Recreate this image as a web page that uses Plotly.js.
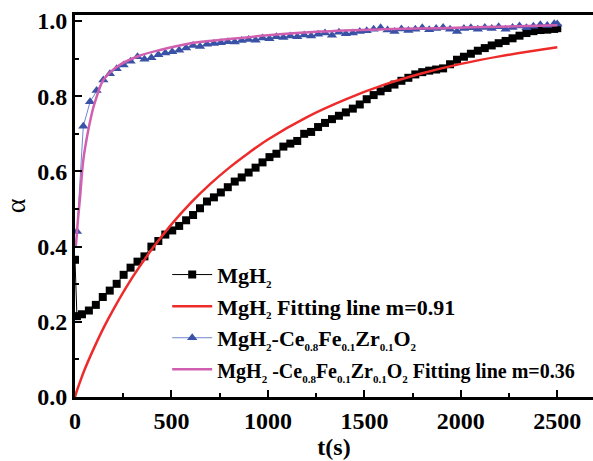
<!DOCTYPE html>
<html><head><meta charset="utf-8">
<script src="https://cdn.plot.ly/plotly-3.0.1.min.js"></script>
<style>html,body{margin:0;padding:0;background:#fff}</style>
</head><body><div id="chart" style="width:593px;height:461px"></div>
<script>
// MgH2 measured data
const mgT = [0,10,36,72,108,144,180,216,252,288,324,360,396,432,468,504,540,576,612,648,684,720,756,792,828,864,900,936,972,1008,1044,1080,1116,1152,1188,1224,1260,1296,1332,1368,1404,1440,1476,1512,1548,1584,1620,1656,1692,1728,1764,1800,1836,1872,1908,1944,1980,2016,2052,2088,2124,2160,2196,2232,2268,2304,2340,2376,2412,2448,2484,2500];
const mgA = [0.365,0.215,0.22,0.23,0.245,0.266,0.283,0.301,0.325,0.344,0.36,0.374,0.40,0.415,0.432,0.443,0.455,0.470,0.484,0.502,0.52,0.531,0.544,0.558,0.573,0.584,0.597,0.61,0.624,0.638,0.647,0.666,0.674,0.681,0.70,0.705,0.718,0.729,0.739,0.748,0.757,0.767,0.778,0.792,0.803,0.813,0.822,0.831,0.841,0.849,0.858,0.864,0.868,0.871,0.874,0.885,0.897,0.905,0.913,0.921,0.928,0.935,0.941,0.947,0.954,0.961,0.968,0.973,0.976,0.977,0.979,0.981];
// MgH2 fitting line (m=0.91)
const fitMgT = [0,10,25,50,100,150,200,300,400,500,600,700,800,900,1000,1200,1400,1600,1800,2000,2200,2500];
const fitMgA = [0,0.017,0.039,0.073,0.132,0.186,0.234,0.320,0.394,0.459,0.516,0.566,0.610,0.649,0.685,0.744,0.791,0.830,0.861,0.886,0.906,0.930];
// MgH2-Ce0.8Fe0.1Zr0.1O2 measured data
const ceT = [10,43,78,112,147,181,216,252,288,324,360,396,432,468,504,540,576,612,648,684,720,756,792,828,864,900,936,972,1008,1044,1080,1116,1152,1188,1224,1260,1296,1332,1368,1404,1440,1476,1512,1548,1584,1620,1656,1692,1728,1764,1800,1836,1872,1908,1944,1980,2016,2052,2088,2124,2160,2196,2232,2268,2304,2340,2376,2412,2448,2484,2500];
const ceA = [0.44,0.72,0.785,0.815,0.843,0.86,0.873,0.883,0.893,0.905,0.898,0.902,0.91,0.915,0.918,0.922,0.928,0.935,0.932,0.938,0.94,0.942,0.945,0.944,0.948,0.951,0.949,0.955,0.953,0.958,0.956,0.96,0.958,0.963,0.96,0.965,0.968,0.962,0.97,0.966,0.968,0.972,0.974,0.978,0.982,0.976,0.972,0.979,0.975,0.978,0.982,0.977,0.98,0.983,0.978,0.972,0.98,0.982,0.978,0.983,0.98,0.985,0.978,0.983,0.987,0.982,0.986,0.99,0.988,0.993,0.992];
// MgH2-Ce0.8Fe0.1Zr0.1O2 fitting line (m=0.36)
const fitCeT = [4,9,15,26,43,69,95,104,147,216,320,441,600,800,1000,1270,1600,1892,2200,2500];
const fitCeA = [0.40,0.43,0.47,0.53,0.63,0.71,0.77,0.785,0.843,0.878,0.905,0.923,0.941,0.952,0.962,0.972,0.978,0.981,0.985,0.989];

const S = s => '<sub><span style="font-size:11px">' + s + '</span></sub>';
const names = [
  'MgH' + S('2'),
  'MgH' + S('2') + ' Fitting line m=0.91',
  'MgH' + S('2') + '-Ce' + S('0.8') + 'Fe' + S('0.1') + 'Zr' + S('0.1') + 'O' + S('2'),
  '<span style="font-size:20px">MgH</span>' + S('2') + '<span style="font-size:20px"> -Ce</span>' + S('0.8') +
    '<span style="font-size:20px">Fe</span>' + S('0.1') + '<span style="font-size:20px">Zr</span>' + S('0.1') +
    '<span style="font-size:20px">O</span>' + S('2') + '<span style="font-size:20px"> Fitting line m=0.36</span>'
];
const xTickVals = [0,500,1000,1500,2000,2500];
const yTickVals = [0,0.2,0.4,0.6,0.8,1.0];

const FONT = 'Liberation Serif, Times New Roman, serif';
const traces = [
  {x: mgT, y: mgA, name: names[0], mode: 'lines+markers', type: 'scatter',
   line: {color: '#000', width: 1}, marker: {symbol: 'square', size: 8, color: '#000'}},
  {x: fitMgT, y: fitMgA, name: names[1], mode: 'lines', type: 'scatter',
   line: {color: '#ee2b2b', width: 2.5, shape: 'spline'}},
  {x: ceT, y: ceA, name: names[2], mode: 'lines+markers', type: 'scatter',
   line: {color: '#6f86d0', width: 1}, marker: {symbol: 'triangle-up', size: 9, color: '#3a52a6'}},
  {x: fitCeT, y: fitCeA, name: names[3], mode: 'lines', type: 'scatter',
   line: {color: '#d05fb0', width: 2.5, shape: 'spline'}}
];
const axisCommon = {
  showline: true, linecolor: '#000', linewidth: 3, showgrid: false, zeroline: false,
  ticks: 'inside', ticklen: 7, tickwidth: 2, tickcolor: '#000',
  tickfont: {family: FONT, size: 24, color: '#000', weight: 'bold'}
};
const layout = {
  width: 593, height: 461,
  margin: {l: 75, r: 0, t: 15, b: 64, autoexpand: false},
  paper_bgcolor: '#fff', plot_bgcolor: '#fff',
  showlegend: true,
  legend: {x: 0.178, y: 0.375, xanchor: 'left', yanchor: 'top', bgcolor: 'rgba(0,0,0,0)',
    font: {family: FONT, size: 22, color: '#000', weight: 'bold'}, tracegroupgap: 0, itemwidth: 40},
  xaxis: Object.assign({}, axisCommon, {
    range: [0, 2685], tickvals: xTickVals, mirror: true, automargin: false,
    minor: {dtick: 250, tick0: 0, ticks: 'inside', ticklen: 4, tickwidth: 2, tickcolor: '#000'},
    title: {text: 't(s)', font: {family: FONT, size: 24, color: '#000', weight: 'bold'}, standoff: 6}
  }),
  yaxis: Object.assign({}, axisCommon, {
    range: [0, 1.016], tickvals: yTickVals, tickformat: '.1f', automargin: false,
    minor: {dtick: 0.1, tick0: 0, ticks: 'inside', ticklen: 4, tickwidth: 2, tickcolor: '#000'},
    title: {text: 'α', font: {family: FONT, size: 28, color: '#000'}, standoff: 4}
  })
};
Plotly.newPlot('chart', traces, layout, {displayModeBar: false, staticPlot: true});
</script></body></html>
